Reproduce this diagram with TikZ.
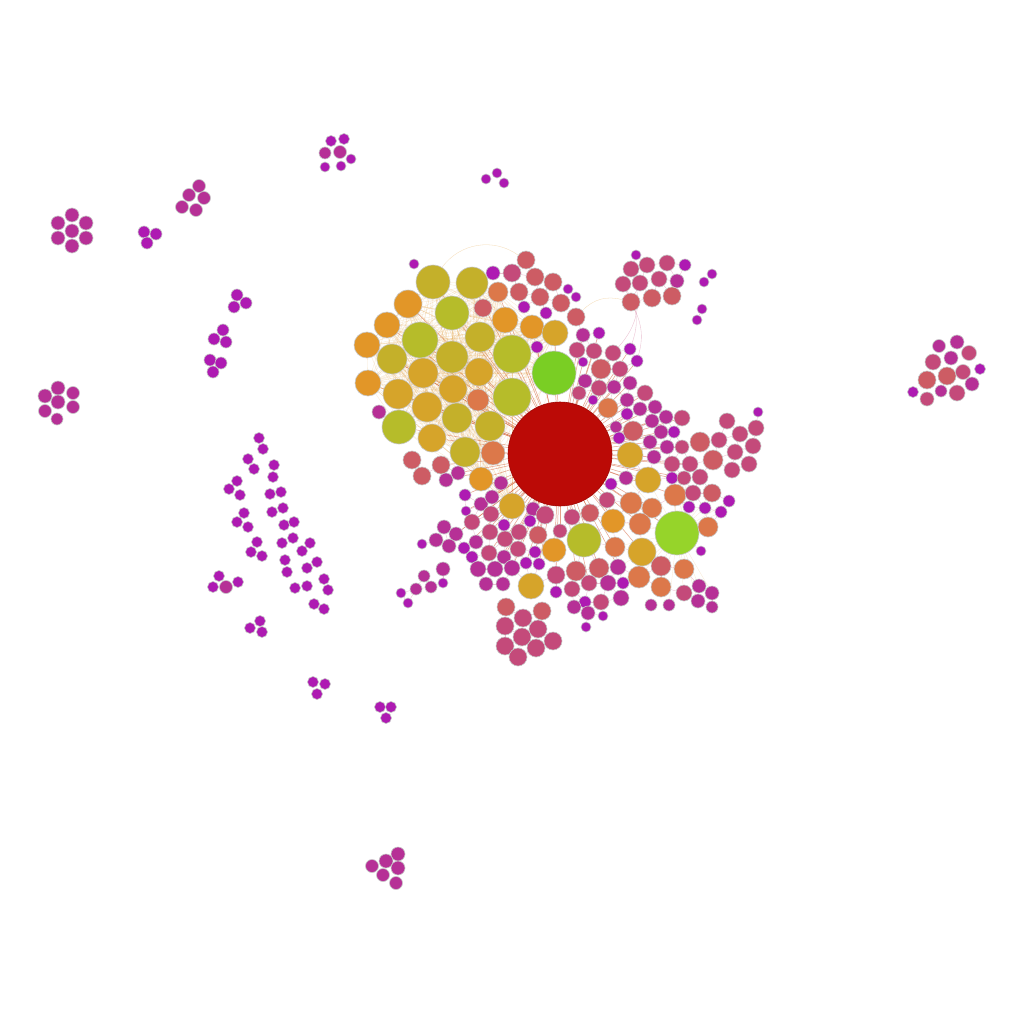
\documentclass[tikz,border=0pt]{standalone}
\usetikzlibrary{backgrounds}

\definecolor{cR}{RGB}{187,10,6}
\definecolor{cG}{RGB}{122,206,36}
\definecolor{cL}{RGB}{150,212,42}
\definecolor{cY}{RGB}{182,188,42}
\definecolor{cO}{RGB}{196,176,42}
\definecolor{cM}{RGB}{214,164,42}
\definecolor{cA}{RGB}{226,150,40}
\definecolor{cD}{RGB}{220,120,74}
\definecolor{cS}{RGB}{205,92,100}
\definecolor{cP}{RGB}{196,74,122}
\definecolor{cK}{RGB}{182,48,150}
\definecolor{cU}{RGB}{174,26,178}

\tikzset{
  bub/.style={circle, inner sep=0pt, draw=gray!45, line width=0.6pt, minimum size={2*#1pt}},
  hubedge/.style={draw=cR!60!cA, line width=0.5pt, opacity=0.5},
  warmedge/.style={draw=cA, line width=0.3pt, opacity=0.22},
  pinkedge/.style={draw=cP!70, line width=0.35pt, opacity=0.5},
}

\begin{document}
\begin{tikzpicture}[x=1pt,y=-1pt]
  \begin{pgfonlayer}{background}
    \fill[white] (0,0) rectangle (1024,1024);
  \end{pgfonlayer}
  \useasboundingbox (0,0) rectangle (1024,1024);

  % the hub and the two green ones
  \node[bub=52, fill=cR, draw=cR!85!black] (hub) at (560,454) {};
  \node[bub=22, fill=cG] (green) at (554,373) {};
  \node[bub=22, fill=cL] (lime) at (677,533) {};

  % warm core, upper left of the hub
  \foreach \x/\y/\r/\c [count=\i] in {
    433/282/17/cO, 472/283/16/cO, 408/304/14/cA, 452/313/17/cY, 505/320/13/cA,
    532/327/12/cA, 555/333/13/cM, 387/325/13/cA, 420/340/18/cY, 480/337/15/cO,
    367/345/13/cA, 392/359/15/cO, 452/357/16/cO, 512/354/19/cY, 423/373/15/cM,
    479/372/14/cM, 368/383/13/cA, 398/394/15/cM, 453/389/14/cM, 478/400/11/cD,
    512/397/19/cY, 427/407/15/cM, 457/418/15/cO, 490/426/15/cO, 399/427/17/cY,
    432/438/14/cM, 465/452/15/cO, 493/453/12/cD, 498/292/10/cD, 481/479/12/cA,
    512/506/13/cM}{
    \node[bub=\r, fill=\c] (w\i) at (\x,\y) {};
    \xdef\nw{\i}
  }

  % pink ring round the core
  \foreach \x/\y/\r/\c [count=\i] in {
    414/264/5/cU, 493/273/7/cU, 512/273/9/cP, 526/260/9/cS, 535/277/9/cS,
    553/282/9/cS, 519/292/9/cS, 540/297/9/cS, 561/303/9/cS, 483/308/9/cS,
    524/307/6/cU, 546/313/6/cU, 537/347/6/cU, 379/412/7/cK,
    % lower left
    412/460/9/cS, 422/476/9/cS, 441/465/9/cS, 458/473/7/cK, 446/480/7/cK,
    501/483/7/cK, 465/495/6/cU, 481/504/7/cK, 492/497/7/cK, 466/511/5/cU,
    472/522/8/cP, 491/514/8/cP, 504/525/6/cU, 533/509/7/cK, 530/521/6/cU,
    545/515/9/cP, 444/527/7/cK, 456/534/7/cK, 436/540/7/cK, 422/544/5/cU,
    449/546/7/cK, 464/548/6/cU, 476/542/7/cK, 490/532/8/cP, 505/539/8/cP,
    519/532/8/cP, 538/535/9/cS, 518/549/8/cP, 535/552/6/cU, 539/564/6/cU,
    526/563/6/cU, 504/557/7/cK, 489/553/8/cP, 472/557/6/cU, 478/569/8/cK,
    495/569/8/cK, 512/568/8/cK, 554/550/12/cA, 531/586/13/cM, 443/569/7/cK,
    424/576/6/cK, 443/583/5/cU, 431/587/6/cK, 416/589/6/cK, 401/593/5/cU,
    408/603/5/cU, 486/584/7/cK, 503/584/7/cK, 556/575/9/cP, 556/592/6/cU,
    506/607/9/cS, 542/611/9/cS, 523/618/9/cP, 505/626/9/cP, 538/629/9/cP,
    522/637/9/cP, 553/641/9/cP, 505/646/9/cP, 536/648/9/cP, 518/657/9/cP,
    % upper right
    636/255/5/cU, 631/269/8/cP, 647/265/8/cP, 667/263/8/cP, 685/265/6/cU,
    623/284/8/cP, 640/283/8/cP, 659/279/8/cP, 677/281/7/cK, 631/302/9/cS,
    652/298/9/cS, 672/296/9/cS, 712/274/5/cU, 704/282/5/cU, 702/309/5/cU,
    697/320/5/cU, 568/289/5/cU, 576/297/5/cU, 576/317/9/cS, 583/335/7/cK,
    599/333/6/cU, 577/350/8/cP, 594/351/8/cP, 613/353/8/cP, 583/362/5/cU,
    630/349/6/cU, 637/361/6/cU, 601/369/10/cS, 620/369/8/cP, 585/381/7/cK,
    599/388/8/cP, 614/387/7/cK, 630/383/7/cK, 593/400/5/cU, 579/393/7/cP,
    608/408/10/cD, 645/393/8/cP, 627/400/7/cK, 640/409/7/cK, 655/407/7/cK,
    627/414/6/cU, 652/421/7/cK, 666/417/7/cK, 682/418/8/cP, 758/412/5/cU,
    616/427/6/cK, 633/431/10/cS, 619/438/6/cU, 650/442/7/cK, 661/432/7/cK,
    674/432/6/cU, 667/447/7/cK, 682/447/7/cP, 700/442/10/cS, 727/421/8/cP,
    740/434/8/cP, 756/428/8/cP, 719/440/8/cP, 735/452/8/cP, 753/446/8/cP,
    630/455/13/cM,
    % lower right
    654/457/7/cK, 672/464/8/cP, 690/464/8/cP, 713/460/10/cS, 732/470/8/cP,
    749/464/8/cP, 611/484/6/cU, 626/478/7/cK, 648/480/13/cM, 672/478/6/cU,
    684/478/7/cP, 700/477/8/cP, 675/495/11/cD, 693/493/8/cP, 712/493/9/cS,
    729/501/6/cU, 689/507/6/cU, 705/508/6/cU, 721/512/6/cU, 607/500/8/cP,
    631/503/11/cD, 652/508/10/cD, 590/513/9/cS, 572/517/8/cP, 613/521/12/cA,
    640/524/11/cD, 708/527/10/cD, 584/540/17/cY, 560/531/7/cP, 615/547/10/cD,
    642/552/14/cM, 701/551/5/cU, 576/571/10/cS, 599/568/10/cS, 618/567/8/cK,
    639/577/11/cD, 661/566/10/cS, 684/569/10/cD, 661/587/10/cD, 684/593/8/cP,
    699/586/7/cK, 712/593/7/cK, 698/601/7/cK, 712/607/6/cK, 589/583/8/cP,
    608/583/8/cK, 623/583/6/cU, 621/598/8/cK, 572/589/8/cP, 601/602/8/cP,
    585/602/6/cU, 574/607/7/cK, 588/613/7/cK, 603/616/5/cU, 586/627/5/cU,
    651/605/6/cK, 669/605/6/cK}{
    \node[bub=\r, fill=\c] (p\i) at (\x,\y) {};
    \expandafter\xdef\csname px\i\endcsname{\x}
    \expandafter\xdef\csname py\i\endcsname{\y}
    \expandafter\xdef\csname pr\i\endcsname{\r}
    \xdef\np{\i}
  }

  % loose groups
  \foreach \x/\y/\r/\c [count=\i] in {
    72/215/7/cK, 58/223/7/cK, 86/223/7/cK, 72/231/7/cK, 58/238/7/cK, 86/238/7/cK, 72/246/7/cK,
    144/232/6/cU, 156/234/6/cU, 147/243/6/cU,
    199/186/6.5/cK, 189/195/6.5/cK, 204/198/6.5/cK, 182/207/6.5/cK, 196/210/6.5/cK,
    331/141/5.5/cU, 344/139/5.5/cU, 325/153/6/cK, 340/152/6.5/cK, 351/159/5/cU, 325/167/5/cU, 341/166/5/cU,
    486/179/5/cU, 497/173/5/cU, 504/183/5/cU,
    237/295/6/cU, 246/303/6/cU, 234/307/6/cU,
    223/330/6/cU, 214/339/6/cU, 226/342/6/cU,
    210/360/6/cU, 221/363/6/cU, 213/372/6/cU,
    58/388/7/cK, 45/396/7/cK, 73/393/6.5/cK, 58/402/7/cK, 45/411/6.5/cK, 73/407/6.5/cK, 57/419/6/cK,
    259/438/5.5/cU, 263/449/5.5/cU, 248/459/5.5/cU, 254/469/5.5/cU, 274/465/5.5/cU,
    273/477/5.5/cU, 237/481/5.5/cU, 229/489/5.5/cU, 240/495/5.5/cU, 270/494/5.5/cU,
    281/492/5.5/cU, 244/513/5.5/cU, 237/522/5.5/cU, 248/527/5.5/cU, 272/512/5.5/cU,
    283/508/5.5/cU, 284/525/5.5/cU, 294/522/5.5/cU, 257/542/5.5/cU, 251/552/5.5/cU,
    262/556/5.5/cU, 282/543/5.5/cU, 293/538/5.5/cU, 310/543/5.5/cU, 302/551/5.5/cU,
    285/560/5.5/cU, 287/572/5.5/cU, 317/562/5.5/cU, 307/568/5.5/cU, 324/579/5.5/cU,
    328/590/5.5/cU, 219/576/5.5/cU, 213/587/5.5/cU, 226/587/6.5/cK, 238/582/5.5/cU,
    295/588/5.5/cU, 307/586/5.5/cU, 314/604/5.5/cU, 324/609/5.5/cU,
    260/621/5.5/cU, 250/628/5.5/cU, 262/632/5.5/cU,
    313/682/5.5/cU, 325/684/5.5/cU, 317/694/5.5/cU,
    380/707/5.5/cU, 391/707/5.5/cU, 386/718/5.5/cU,
    398/854/7/cK, 386/861/7/cK, 372/866/6.5/cK, 398/868/7/cK, 383/875/6.5/cK, 396/883/6.5/cK,
    939/346/6.5/cK, 957/342/7/cK, 969/353/7.5/cP, 933/362/8/cP, 951/358/7/cK,
    980/369/5.5/cU, 927/380/9/cS, 947/376/9/cS, 963/372/7.5/cP, 972/384/7/cK,
    913/392/5.5/cU, 927/399/7/cP, 941/391/6/cK, 957/393/8/cP}{
    \node[bub=\r, fill=\c] (q\i) at (\x,\y) {};
  }

  \begin{pgfonlayer}{background}
    % hub spokes and the dense warm mesh
    \draw[hubedge] (hub) -- (green);
    \draw[hubedge] (hub) -- (lime);
    \foreach \i in {1,...,\nw}{
      \draw[hubedge] (hub) -- (w\i);
      \draw[warmedge] (green) -- (w\i);
      \foreach \j in {\i,...,\nw}{
        \ifnum\j>\i \draw[warmedge] (w\i) -- (w\j);\fi
      }
    }
    % spokes to the near ring, short links between ring neighbours
    \foreach \i in {1,...,\np}{
      \edef\xa{\csname px\i\endcsname}\edef\ya{\csname py\i\endcsname}
      \pgfmathsetmacro\dd{veclen(\xa-560,\ya-454)}
      \ifdim\dd pt<135pt \draw[hubedge] (hub) -- (p\i);\fi
      \pgfmathsetmacro\dl{veclen(\xa-677,\ya-533)}
      \ifdim\dl pt<75pt \draw[warmedge] (lime) -- (p\i);\fi
      \foreach \k in {1,...,12}{
        \pgfmathtruncatemacro\j{\i+\k}
        \ifnum\j>\np\relax\else
          \edef\xb{\csname px\j\endcsname}\edef\yb{\csname py\j\endcsname}
          \edef\ra{\csname pr\i\endcsname}\edef\rb{\csname pr\j\endcsname}
          \pgfmathsetmacro\gap{veclen(\xa-\xb,\ya-\yb)-\ra-\rb}
          \ifdim\gap pt<6pt \draw[pinkedge] (p\i) -- (p\j);\fi
        \fi
      }
    }
    % long faint arcs
    \draw[warmedge, opacity=0.35] (w1) to[bend left=45] (p4);
    \draw[warmedge, opacity=0.35] (p84) to[bend right=30] (p93);
    \draw[pinkedge] (p80) to[bend left=25] (p100);
    \draw[pinkedge] (p84) to[bend left=20] (p101);
    \draw[pinkedge] (p76) to[bend left=30] (p98);
  \end{pgfonlayer}
\end{tikzpicture}
\end{document}
